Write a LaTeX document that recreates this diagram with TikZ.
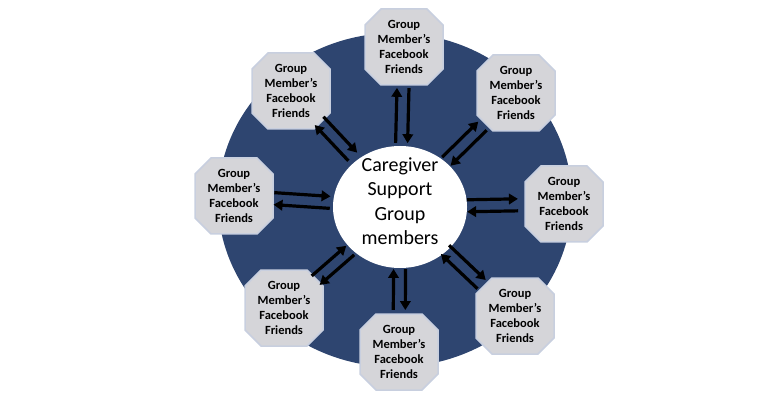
\documentclass[tikz,border=0pt]{standalone}
\usepackage{fontspec}
\setmainfont{Carlito}
\usetikzlibrary{shapes.misc,shapes.geometric,arrows.meta,calc}
\definecolor{bigblue}{HTML}{2E4570}
\definecolor{boxfill}{HTML}{D5D5D9}
\definecolor{boxline}{HTML}{C8CFDF}
\newcommand\pairarrows[3]{%
  \draw[arr] ($(c)!#2!(#1)!6pt!90:(#1)$) -- ($(#1)!#3!(c)!6pt!-90:(c)$);
  \draw[arr] ($(#1)!#3!(c)!6pt!90:(c)$) -- ($(c)!#2!(#1)!6pt!-90:(#1)$);
}
\begin{document}
\begin{tikzpicture}[x=1pt,y=-1pt,
  member/.style={chamfered rectangle, chamfered rectangle xsep=8pt,
    chamfered rectangle ysep=8pt, minimum width=78pt, minimum height=76pt,
    inner sep=0pt, fill=boxfill, draw=boxline, line width=1.5pt,
    font=\bfseries\fontsize{12.5}{15}\selectfont, align=center, text=black},
  arr/.style={line width=3.2pt, -{Triangle[length=9pt,width=10.5pt]}}]
\useasboundingbox (0,0) rectangle (783,411);
\fill[bigblue] (395,200) ellipse [x radius=177pt, y radius=167pt];
\node[ellipse, fill=white, minimum width=134pt, minimum height=122pt, inner sep=0pt] (c) at (400,207) {};
\node[font=\fontsize{20}{24.5}\selectfont, align=center] (ctext) at (400,201) {Caregiver\\Support\\Group\\members};
\node[member] (n1) at (404,47)  {Group\\Member’s\\Facebook\\Friends};
\node[member] (n2) at (516,93)  {Group\\Member’s\\Facebook\\Friends};
\node[member] (n3) at (564,204) {Group\\Member’s\\Facebook\\Friends};
\node[member] (n4) at (515,316) {Group\\Member’s\\Facebook\\Friends};
\node[member] (n5) at (399,352) {Group\\Member’s\\Facebook\\Friends};
\node[member] (n6) at (284,308) {Group\\Member’s\\Facebook\\Friends};
\node[member] (n7) at (234,196) {Group\\Member’s\\Facebook\\Friends};
\node[member] (n8) at (291,91)  {Group\\Member’s\\Facebook\\Friends};
\pairarrows{n1}{64pt}{41pt}
\pairarrows{n2}{65pt}{47pt}
\pairarrows{n3}{67pt}{46pt}
\pairarrows{n4}{62pt}{46pt}
\pairarrows{n5}{62pt}{42pt}
\pairarrows{n6}{66pt}{42pt}
\pairarrows{n7}{70pt}{40pt}
\pairarrows{n8}{69pt}{41pt}
\end{tikzpicture}
\end{document}
